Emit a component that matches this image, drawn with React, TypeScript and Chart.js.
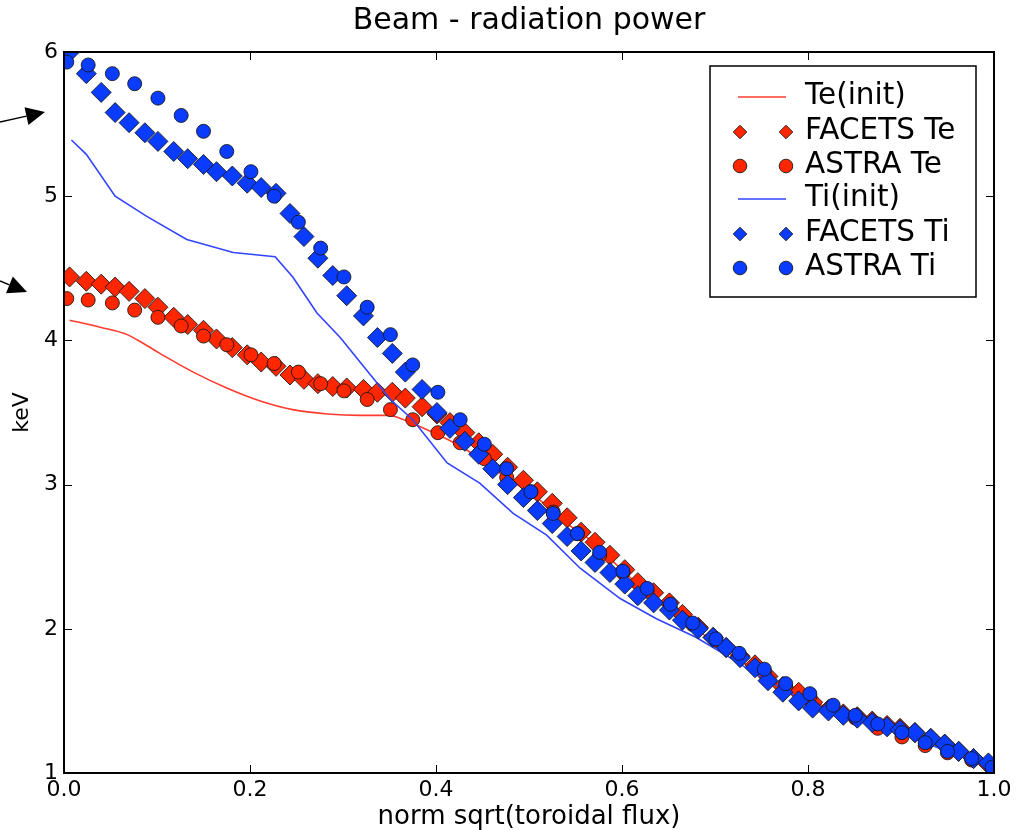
import React, { useEffect, useRef } from 'react';
import { Chart, registerables } from 'chart.js';

Chart.register(...registerables);

// ---- data ----
const facetsRho = [0.006, 0.024, 0.040, 0.055, 0.070, 0.087, 0.101, 0.118, 0.133, 0.150, 0.164, 0.181, 0.197, 0.212, 0.228, 0.243, 0.258, 0.273, 0.289, 0.304, 0.322, 0.337, 0.353, 0.367, 0.385, 0.401, 0.415, 0.431, 0.446, 0.461, 0.477, 0.494, 0.509, 0.525, 0.541, 0.556, 0.571, 0.587, 0.603, 0.617, 0.634, 0.651, 0.665, 0.682, 0.698, 0.712, 0.727, 0.743, 0.757, 0.773, 0.790, 0.805, 0.822, 0.838, 0.853, 0.869, 0.885, 0.899, 0.915, 0.932, 0.947, 0.962, 0.978, 0.994];
const facetsTi = [6.00, 5.85, 5.72, 5.58, 5.51, 5.44, 5.38, 5.31, 5.26, 5.22, 5.17, 5.14, 5.09, 5.06, 5.02, 4.88, 4.72, 4.57, 4.45, 4.31, 4.17, 4.02, 3.91, 3.78, 3.66, 3.50, 3.39, 3.30, 3.21, 3.11, 3.00, 2.91, 2.82, 2.73, 2.64, 2.54, 2.46, 2.39, 2.31, 2.23, 2.18, 2.13, 2.06, 2.00, 1.94, 1.87, 1.80, 1.73, 1.64, 1.56, 1.50, 1.45, 1.43, 1.40, 1.38, 1.35, 1.32, 1.30, 1.28, 1.24, 1.20, 1.15, 1.10, 1.07];
const facetsTe = [4.44, 4.41, 4.39, 4.37, 4.34, 4.29, 4.23, 4.16, 4.11, 4.07, 4.01, 3.95, 3.90, 3.85, 3.82, 3.76, 3.73, 3.70, 3.68, 3.67, 3.66, 3.64, 3.64, 3.60, 3.54, 3.49, 3.43, 3.36, 3.29, 3.21, 3.12, 3.03, 2.95, 2.87, 2.77, 2.67, 2.60, 2.51, 2.41, 2.32, 2.25, 2.18, 2.10, 2.01, 1.94, 1.87, 1.81, 1.75, 1.67, 1.60, 1.56, 1.49, 1.44, 1.41, 1.39, 1.36, 1.33, 1.31, 1.28, 1.24, 1.20, 1.15, 1.10, 1.06];

const astraRho = [0.003, 0.026, 0.052, 0.076, 0.101, 0.126, 0.150, 0.175, 0.201, 0.226, 0.252, 0.276, 0.301, 0.326, 0.351, 0.375, 0.402, 0.426, 0.452, 0.476, 0.502, 0.526, 0.552, 0.576, 0.601, 0.627, 0.652, 0.676, 0.701, 0.726, 0.753, 0.776, 0.802, 0.827, 0.851, 0.875, 0.901, 0.926, 0.950, 0.976, 0.998];
const astraTi = [5.93, 5.91, 5.85, 5.78, 5.68, 5.56, 5.45, 5.31, 5.17, 5.00, 4.82, 4.64, 4.44, 4.23, 4.04, 3.83, 3.64, 3.45, 3.28, 3.11, 2.95, 2.80, 2.66, 2.53, 2.40, 2.28, 2.17, 2.04, 1.93, 1.83, 1.72, 1.62, 1.55, 1.47, 1.40, 1.34, 1.28, 1.21, 1.15, 1.10, 1.04];
const astraTe = [4.29, 4.28, 4.26, 4.21, 4.16, 4.10, 4.03, 3.97, 3.90, 3.84, 3.78, 3.70, 3.65, 3.59, 3.52, 3.45, 3.36, 3.29, 3.18, 3.05, 2.95, 2.81, 2.66, 2.51, 2.39, 2.26, 2.14, 2.03, 1.92, 1.81, 1.70, 1.60, 1.53, 1.45, 1.38, 1.31, 1.25, 1.19, 1.14, 1.09, 1.04];

const teInitRho = [0.006, 0.040, 0.068, 0.085, 0.103, 0.139, 0.175, 0.211, 0.246, 0.283, 0.318, 0.350, 0.361, 0.380, 0.404, 0.433, 0.455, 0.483, 0.512, 0.541, 0.569, 0.598, 0.637, 0.673, 0.716, 0.748, 0.800, 0.850, 0.900, 0.950, 1.000];
const teInit = [4.14, 4.09, 4.04, 3.98, 3.91, 3.78, 3.67, 3.58, 3.52, 3.49, 3.48, 3.48, 3.46, 3.41, 3.34, 3.24, 3.14, 3.02, 2.89, 2.73, 2.60, 2.42, 2.20, 2.03, 1.83, 1.69, 1.51, 1.39, 1.29, 1.16, 1.03];

const tiInitRho = [0.008, 0.024, 0.055, 0.089, 0.132, 0.182, 0.227, 0.246, 0.272, 0.297, 0.322, 0.351, 0.375, 0.412, 0.447, 0.483, 0.519, 0.555, 0.598, 0.637, 0.680, 0.716, 0.748, 0.800, 0.850, 0.900, 0.950, 1.000];
const tiInit = [5.39, 5.29, 5.00, 4.86, 4.70, 4.61, 4.58, 4.44, 4.19, 4.02, 3.82, 3.59, 3.45, 3.15, 3.01, 2.80, 2.65, 2.42, 2.21, 2.07, 1.94, 1.80, 1.67, 1.49, 1.37, 1.27, 1.15, 1.03];

const xTickLabels = ['0.0', '0.2', '0.4', '0.6', '0.8', '1.0'];
const yTickLabels = ['1', '2', '3', '4', '5', '6'];
const legendLabels = ['Te(init)', 'FACETS Te', 'ASTRA Te', 'Ti(init)', 'FACETS Ti', 'ASTRA Ti'];
const legendKinds = ['line', 'rectRot', 'circle', 'line', 'rectRot', 'circle'];

const RED = '#ff2600';
const BLUE = '#0a3cff';
const RED_LINE = '#ff3b2e';
const BLUE_LINE = '#3344ff';
const EDGE = 'rgba(20,20,20,0.85)';
const FONT = '"DejaVu Sans", "Liberation Sans", sans-serif';

const pts = (xs: number[], ys: number[]) => xs.map((x, i) => ({ x, y: ys[i] }));

function marker(ctx: CanvasRenderingContext2D, kind: string, x: number, y: number, r: number, fill: string) {
  ctx.beginPath();
  if (kind === 'circle') {
    ctx.arc(x, y, r, 0, Math.PI * 2);
  } else {
    ctx.moveTo(x - r, y);
    ctx.lineTo(x, y - r);
    ctx.lineTo(x + r, y);
    ctx.lineTo(x, y + r);
    ctx.closePath();
  }
  ctx.fillStyle = fill;
  ctx.fill();
  ctx.lineWidth = 1;
  ctx.strokeStyle = EDGE;
  ctx.stroke();
}

function arrow(ctx: CanvasRenderingContext2D, x0: number, y0: number, x1: number, y1: number) {
  const dx = x1 - x0, dy = y1 - y0;
  const len = Math.hypot(dx, dy);
  const ux = dx / len, uy = dy / len;
  const hl = 19, hw = 9;
  const bx = x1 - ux * hl, by = y1 - uy * hl;
  ctx.strokeStyle = '#000';
  ctx.lineWidth = 1.5;
  ctx.beginPath();
  ctx.moveTo(x0, y0);
  ctx.lineTo(bx, by);
  ctx.stroke();
  ctx.fillStyle = '#000';
  ctx.beginPath();
  ctx.moveTo(x1, y1);
  ctx.lineTo(bx - uy * hw, by + ux * hw);
  ctx.lineTo(bx + uy * hw, by - ux * hw);
  ctx.closePath();
  ctx.fill();
}

const decor = {
  id: 'decor',
  afterDraw(chart: any) {
    const { ctx, chartArea: a, scales } = chart;
    ctx.save();
    // inward ticks on all four sides
    ctx.strokeStyle = '#000';
    ctx.lineWidth = 1;
    const tl = 8;
    scales.x.ticks.forEach((t: any) => {
      const p = Math.round(scales.x.getPixelForValue(t.value)) + 0.5;
      ctx.beginPath();
      ctx.moveTo(p, a.bottom); ctx.lineTo(p, a.bottom - tl);
      ctx.moveTo(p, a.top); ctx.lineTo(p, a.top + tl);
      ctx.stroke();
    });
    scales.y.ticks.forEach((t: any) => {
      const p = Math.round(scales.y.getPixelForValue(t.value)) + 0.5;
      ctx.beginPath();
      ctx.moveTo(a.left, p); ctx.lineTo(a.left + tl, p);
      ctx.moveTo(a.right, p); ctx.lineTo(a.right - tl, p);
      ctx.stroke();
    });
    // frame
    ctx.lineWidth = 2;
    ctx.strokeRect(a.left, a.top, a.right - a.left, a.bottom - a.top);

    // title
    ctx.fillStyle = '#000';
    ctx.font = `30px ${FONT}`;
    ctx.textAlign = 'center';
    ctx.textBaseline = 'alphabetic';
    ctx.fillText('Beam - radiation power', (a.left + a.right) / 2, 29);

    // legend
    const lx = 710, ly = 66, lw = 266, lh = 231;
    ctx.fillStyle = '#fff';
    ctx.fillRect(lx, ly, lw, lh);
    ctx.lineWidth = 1.5;
    ctx.strokeStyle = '#000';
    ctx.strokeRect(lx, ly, lw, lh);
    const rows = [97, 132, 166, 199, 234, 268];
    const colors = [RED, RED, RED, BLUE, BLUE, BLUE];
    const lineColors = [RED_LINE, RED_LINE, RED_LINE, BLUE_LINE, BLUE_LINE, BLUE_LINE];
    legendLabels.forEach((lab, i) => {
      const y = rows[i];
      if (legendKinds[i] === 'line') {
        ctx.strokeStyle = lineColors[i];
        ctx.lineWidth = 1.6;
        ctx.beginPath();
        ctx.moveTo(738, y); ctx.lineTo(786, y);
        ctx.stroke();
      } else {
        marker(ctx, legendKinds[i], 740, y, 6.8, colors[i]);
        marker(ctx, legendKinds[i], 786, y, 6.8, colors[i]);
      }
      ctx.fillStyle = '#000';
      ctx.font = `29.5px ${FONT}`;
      ctx.textAlign = 'left';
      ctx.textBaseline = 'middle';
      ctx.fillText(lab, 805, y - 1);
    });

    // annotation arrows at the left edge
    arrow(ctx, 0, 122, 45, 112);
    arrow(ctx, 0, 281, 27, 292);
    ctx.restore();
  },
};

export default function App() {
  const ref = useRef<HTMLCanvasElement>(null);
  useEffect(() => {
    const lineDs = (label: string, xs: number[], ys: number[], color: string, order: number, smooth: boolean) => ({
      label, data: pts(xs, ys), showLine: true, borderColor: color, borderWidth: 1.6,
      pointRadius: 0, pointHoverRadius: 0, fill: false, clip: 0, order,
      ...(smooth ? { cubicInterpolationMode: 'monotone' } : { tension: 0 }),
    });
    const markDs = (label: string, xs: number[], ys: number[], color: string, style: string, r: number, order: number) => ({
      label, data: pts(xs, ys), showLine: false, pointStyle: style, pointRadius: r, pointHoverRadius: r,
      backgroundColor: color, borderColor: EDGE, borderWidth: 1, clip: 0, order,
    });
    const chart = new Chart(ref.current as HTMLCanvasElement, {
      type: 'scatter',
      data: {
        datasets: [
          lineDs('Te(init)', teInitRho, teInit, RED_LINE, 6, true),
          markDs('FACETS Te', facetsRho, facetsTe, RED, 'rectRot', 10, 5),
          markDs('ASTRA Te', astraRho, astraTe, RED, 'circle', 7, 4),
          lineDs('Ti(init)', tiInitRho, tiInit, BLUE_LINE, 3, false),
          markDs('FACETS Ti', facetsRho, facetsTi, BLUE, 'rectRot', 10, 2),
          markDs('ASTRA Ti', astraRho, astraTi, BLUE, 'circle', 7, 1),
        ] as any,
      },
      options: {
        animation: false,
        responsive: false,
        devicePixelRatio: 1,
        layout: { padding: { top: 52, right: 25, left: 0, bottom: 0 } },
        plugins: { legend: { display: false }, tooltip: { enabled: false }, title: { display: false } },
        events: [],
        scales: {
          x: {
            type: 'linear', min: 0, max: 1,
            afterFit: (s: any) => { s.height = 57; },
            grid: { display: false, drawTicks: false },
            border: { display: false },
            ticks: {
              stepSize: 0.2, autoSkip: false, maxRotation: 0, padding: 4, color: '#000',
              font: { family: FONT, size: 22 },
              callback: (_v: any, i: number) => xTickLabels[i],
            },
            title: {
              display: true, text: 'norm sqrt(toroidal flux)', color: '#000',
              font: { family: FONT, size: 26 }, padding: { top: 0, bottom: -3 },
            },
          },
          y: {
            type: 'linear', min: 1, max: 6,
            afterFit: (s: any) => { s.width = 64; },
            grid: { display: false, drawTicks: false },
            border: { display: false },
            ticks: {
              stepSize: 1, autoSkip: false, padding: 6, color: '#000',
              font: { family: FONT, size: 22 },
              callback: (_v: any, i: number) => yTickLabels[i],
            },
            title: {
              display: true, text: 'keV', color: '#000',
              font: { family: FONT, size: 22 }, padding: { top: 9, bottom: 0 },
            },
          },
        },
      } as any,
      plugins: [decor],
    });
    return () => chart.destroy();
  }, []);
  return (
    <div style={{ position: 'absolute', left: 0, top: 0, width: 1019, height: 830, background: '#fff' }}>
      <canvas ref={ref} width={1019} height={830} style={{ display: 'block' }} />
    </div>
  );
}
